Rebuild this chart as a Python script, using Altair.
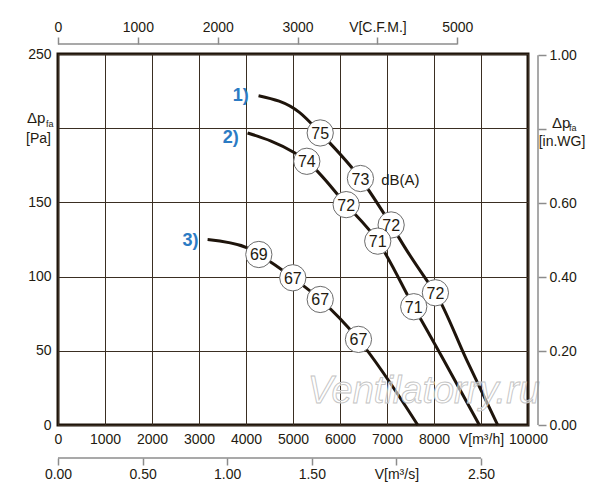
import altair as alt
import pandas as pd

# ---- data (V in m3/h, dp in Pa) ----
c1_flow = [4267, 5143, 5579, 6435, 7088, 7413, 7839, 8030, 8689, 9354]
c1_dp = [221.9, 210.5, 196.8, 166.1, 134.8, 118.0, 97.8, 89.1, 44.2, 0]
c2_flow = [4033, 5032, 5294, 6131, 6803, 7569, 8200, 8965]
c2_dp = [196.8, 183.4, 177.7, 148.5, 123.9, 79.7, 44.2, 0]
c3_flow = [3183, 4012, 4273, 4996, 5579, 6393, 7654]
c3_dp = [125.0, 119.6, 114.9, 99.2, 84.6, 57.7, 0]

db_flow = [5579, 6435, 7088, 8030, 5294, 6131, 6803, 7569, 4273, 4996, 5579, 6393]
db_dp = [196.8, 166.1, 134.8, 89.1, 177.7, 148.5, 123.9, 79.7, 114.9, 99.2, 84.6, 57.7]
db_val = ["75", "73", "72", "72", "74", "72", "71", "71", "69", "67", "67", "67"]

curve_names = ["1)", "2)", "3)"]
curve_label_flow = [3890, 3677, 2821]
curve_label_dp = [221.5, 193.5, 124.3]

x_ticks = [0, 1000, 2000, 3000, 4000, 5000, 6000, 7000, 8000, 9000, 10000]
y_ticks = [0, 50, 100, 150, 200, 250]
cfm_ticks = [0, 1000, 2000, 3000, 4000, 5000]
ms_ticks = [0, 0.5, 1.0, 1.5, 2.0, 2.5]
wg_ticks = [0, 0.2, 0.4, 0.6, 0.8, 1.0]

M3H_PER_CFM = 1.699
PA_PER_INWG = 249.089

W, H = 470, 371
DARK = "#1e140b"
TXT = "#231a10"
GRID = "#3a2e22"
GRAY = "#8c8c8c"
BLUE = "#2b7bc4"
FONT = "Liberation Sans"

rows = []
for name, fl, dp in zip(curve_names, [c1_flow, c2_flow, c3_flow], [c1_dp, c2_dp, c3_dp]):
    for i, (f, p) in enumerate(zip(fl, dp)):
        rows.append({"curve": name, "flow": f, "dp": p, "order": i})
curves_df = pd.DataFrame(rows)
db_df = pd.DataFrame({"flow": db_flow, "dp": db_dp, "db": db_val})
names_df = pd.DataFrame({"flow": curve_label_flow, "dp": curve_label_dp, "name": curve_names})

xs = alt.Scale(domain=[0, 10000], nice=False, zero=True)
ys = alt.Scale(domain=[0, 250], nice=False, zero=True)

x_main = alt.X(
    "flow:Q", scale=xs, title=None,
    axis=alt.Axis(values=x_ticks, format="d", grid=True, gridColor=GRID, gridWidth=1,
                  tickSize=0, domain=False, labelPadding=7, labelOverlap=False, labelFlush=False,
                  labelExpr="datum.value == 9000 ? 'V[m³/h]' : datum.label"),
)
y_main = alt.Y(
    "dp:Q", scale=ys, title=None,
    axis=alt.Axis(values=y_ticks, format="d", grid=True, gridColor=GRID, gridWidth=1,
                  tickSize=0, domain=False, labelPadding=7, labelOverlap=False, labelFlush=False,
                  labelExpr="datum.value == 200 ? '' : datum.label"),
)

lines = alt.Chart(curves_df).mark_line(color=DARK, strokeWidth=3, interpolate="monotone").encode(
    x=x_main, y=y_main, detail="curve:N", order="order:Q"
)
circles = alt.Chart(db_df).mark_point(
    shape="circle", size=690, filled=False, fill="white", fillOpacity=1, stroke="#6b6b6b", strokeWidth=1, opacity=1
).encode(x=alt.X("flow:Q", scale=xs), y=alt.Y("dp:Q", scale=ys))
circle_txt = alt.Chart(db_df).mark_text(fontSize=16, color=TXT, font=FONT, baseline="middle", dy=1).encode(
    x=alt.X("flow:Q", scale=xs), y=alt.Y("dp:Q", scale=ys), text="db:N"
)
names = alt.Chart(names_df).mark_text(fontSize=18, fontWeight="bold", color=BLUE, font=FONT, baseline="middle").encode(
    x=alt.X("flow:Q", scale=xs), y=alt.Y("dp:Q", scale=ys), text="name:N"
)
dba = alt.Chart(pd.DataFrame({"flow": [6875], "dp": [165.4], "t": ["dB(A)"]})).mark_text(
    fontSize=15, color=TXT, font=FONT, align="left", baseline="middle"
).encode(x=alt.X("flow:Q", scale=xs), y=alt.Y("dp:Q", scale=ys), text="t:N")
watermark = alt.Chart(pd.DataFrame({"flow": [7783], "dp": [22.0], "t": ["Ventilatorry.ru"]})).mark_text(
    fontSize=38, fontStyle="italic", font=FONT, fill="white", fillOpacity=0.55, stroke="#c4c4c4",
    strokeWidth=0.9, baseline="middle", align="center"
).encode(x=alt.X("flow:Q", scale=xs), y=alt.Y("dp:Q", scale=ys), text="t:N")


def label(text, x, y, size, align="left"):
    return alt.Chart(pd.DataFrame({"t": [text]})).mark_text(
        fontSize=size, color=TXT, font=FONT, align=align, baseline="middle"
    ).encode(x=alt.value(x), y=alt.value(y), text="t:N")


left_title = [label("Δp", -31, 64, 15), label("fa", -12, 70, 9), label("[Pa]", -32, 85, 14)]
right_title = [label("Δp", 494, 69, 15), label("fa", 511, 74, 9), label("[in.WG]", 504, 88, 14, "center")]

main = alt.layer(lines, circles, circle_txt, names, dba, watermark, *left_title, *right_title)

# secondary axes
top = alt.Chart(pd.DataFrame({"a": [0], "b": [cfm_ticks[-1]]})).mark_rule(color=GRAY, strokeWidth=1.5).encode(
    x=alt.X("a:Q", title=None, scale=alt.Scale(domain=[0, 10000 / M3H_PER_CFM], nice=False, zero=True),
            axis=alt.Axis(orient="top", offset=10, values=cfm_ticks, format="d", grid=False, domain=False,
                          tickSize=7, tickColor=GRAY, tickWidth=1.5, labelPadding=3, labelFlush=False,
                          labelOverlap=False,
                          labelExpr="datum.value == 4000 ? 'V[C.F.M.]' : datum.label")),
    x2="b:Q",
    y=alt.value(-10),
)
bottom2 = alt.Chart(pd.DataFrame({"a": [0], "b": [ms_ticks[-1]]})).mark_rule(color=GRAY, strokeWidth=1.5).encode(
    x=alt.X("a:Q", title=None, scale=alt.Scale(domain=[0, 10000 / 3600], nice=False, zero=True),
            axis=alt.Axis(orient="bottom", offset=33, values=ms_ticks, format=".2f", grid=False, domain=False,
                          tickSize=7, tickColor=GRAY, tickWidth=1.5, labelPadding=2, labelFlush=False,
                          labelOverlap=False,
                          labelExpr="datum.value == 2 ? 'V[m³/s]' : datum.label")),
    x2="b:Q",
    y=alt.value(H + 33),
)
right = alt.Chart(pd.DataFrame({"a": [0], "b": [wg_ticks[-1]]})).mark_rule(color=GRAY, strokeWidth=1.5).encode(
    y=alt.Y("a:Q", title=None, scale=alt.Scale(domain=[0, 250 / PA_PER_INWG], nice=False, zero=True),
            axis=alt.Axis(orient="right", offset=10, values=wg_ticks, format=".2f", grid=False, domain=False,
                          tickSize=8, tickColor=GRAY, tickWidth=1.5, labelPadding=3, labelFlush=False,
                          labelOverlap=False,
                          labelExpr="datum.value == 0.8 ? '' : datum.label")),
    y2="b:Q",
    x=alt.value(W + 10),
)

chart = alt.layer(main, top, bottom2, right).resolve_scale(
    x="independent", y="independent"
).properties(
    width=W, height=H,
    autosize=alt.AutoSizeParams(type="none"),
    padding={"left": 50, "top": 46, "right": 62, "bottom": 60},
    background="white",
).configure_view(
    stroke=DARK, strokeWidth=3
).configure_axis(
    labelFont=FONT, labelFontSize=14, labelColor=TXT
)

chart.save("out.html", embed_options={"renderer": "svg", "actions": False})
